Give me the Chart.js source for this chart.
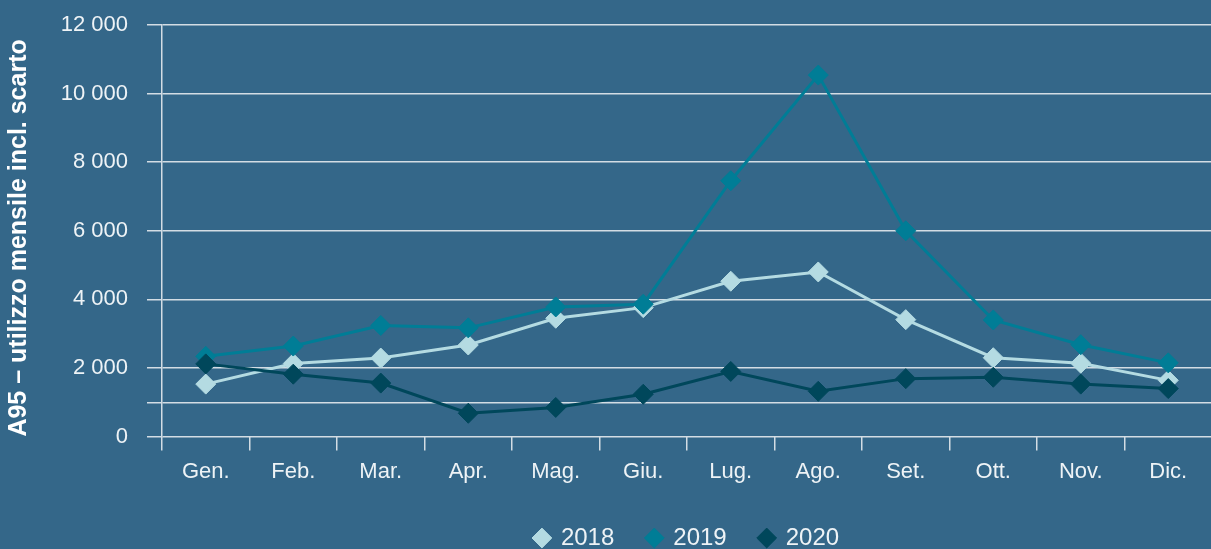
<!DOCTYPE html>
<html>
<head>
<meta charset="utf-8">
<script src="https://cdn.jsdelivr.net/npm/chart.js@4"></script>
<style>
  html, body { margin: 0; padding: 0; overflow: hidden; background: #346789; }
  #wrap { width: 1223px; height: 549px; position: relative; }
</style>
</head>
<body>
<div id="wrap"><canvas id="chart"></canvas></div>
<script>
// months and yearly series
const months = ['Gen.', 'Feb.', 'Mar.', 'Apr.', 'Mag.', 'Giu.', 'Lug.', 'Ago.', 'Set.', 'Ott.', 'Nov.', 'Dic.'];
const years = ['2018', '2019', '2020'];
const values2018 = [1530, 2130, 2290, 2670, 3450, 3760, 4530, 4800, 3410, 2300, 2140, 1640];
const values2019 = [2340, 2640, 3240, 3170, 3780, 3860, 7460, 10540, 6000, 3400, 2680, 2150];
const values2020 = [2120, 1820, 1560, 680, 850, 1235, 1900, 1320, 1690, 1730, 1530, 1400];
const yTicks = [0, 1000, 2000, 4000, 6000, 8000, 10000, 12000];
const yLabelled = [0, 2000, 4000, 6000, 8000, 10000, 12000];

const bg = '#346789';
const gridColor = '#d3dde4';
const textColor = '#eef3f6';
const colors = ['#b4dbe2', '#007d96', '#00475b'];
const font = 'Liberation Sans, Arial, sans-serif';

function fmt(v) {
    return String(v).replace(/\B(?=(\d{3})+(?!\d))/g, ' ');
}

function makeSet(label, data, color, order) {
    return {
        label: label,
        data: data,
        borderColor: color,
        backgroundColor: color,
        borderWidth: 3,
        pointStyle: 'rectRot',
        pointRadius: 10,
        pointBorderWidth: 1,
        pointBackgroundColor: color,
        pointBorderColor: color,
        tension: 0,
        order: order
    };
}

const bgPlugin = {
    id: 'bg',
    beforeDraw(chart) {
        const c = chart.ctx;
        c.save();
        c.fillStyle = bg;
        c.fillRect(0, 0, chart.width, chart.height);
        c.restore();
    }
};

new Chart(document.getElementById('chart'), {
    type: 'line',
    data: {
        labels: months,
        datasets: [
            makeSet(years[0], values2018, colors[0], 3),
            makeSet(years[1], values2019, colors[1], 2),
            makeSet(years[2], values2020, colors[2], 1)
        ]
    },
    options: {
        responsive: true,
        maintainAspectRatio: false,
        animation: false,
        layout: { padding: { top: 25, right: 0, bottom: -11, left: 0 } },
        plugins: {
            tooltip: { enabled: false },
            legend: {
                position: 'bottom',
                fullSize: false,
                labels: {
                    usePointStyle: true,
                    pointStyle: 'rectRot',
                    boxWidth: 14,
                    boxHeight: 14,
                    padding: 33,
                    color: textColor,
                    font: { family: font, size: 24 },
                    sort: (a, b) => a.datasetIndex - b.datasetIndex
                }
            }
        },
        scales: {
            x: {
                offset: true,
                grid: {
                    offset: true,
                    drawOnChartArea: false,
                    color: gridColor,
                    lineWidth: 1.5,
                    tickLength: 14
                },
                border: { display: false },
                ticks: {
                    color: textColor,
                    padding: 8,
                    maxRotation: 0,
                    font: { family: font, size: 22 }
                }
            },
            y: {
                min: 0,
                max: 12000,
                afterBuildTicks: (scale) => {
                    scale.ticks = yTicks.map(v => ({ value: v }));
                },
                afterFit: (scale) => {
                    scale.width = 162;
                    scale.paddingTop = 0;
                    scale.paddingBottom = 0;
                },
                grid: {
                    color: gridColor,
                    lineWidth: 1.5,
                    tickLength: 15
                },
                border: { display: true, color: gridColor, width: 1.5 },
                ticks: {
                    color: textColor,
                    padding: 19,
                    font: { family: font, size: 22 },
                    callback: (v) => yLabelled.includes(v) ? fmt(v) : ''
                },
                title: {
                    display: true,
                    text: 'A95 – utilizzo mensile incl. scarto',
                    align: 'start',
                    color: '#ffffff',
                    padding: { top: 4, bottom: 0 },
                    font: { family: font, size: 25, weight: 'bold' }
                }
            }
        }
    },
    plugins: [bgPlugin]
});
</script>
</body>
</html>
